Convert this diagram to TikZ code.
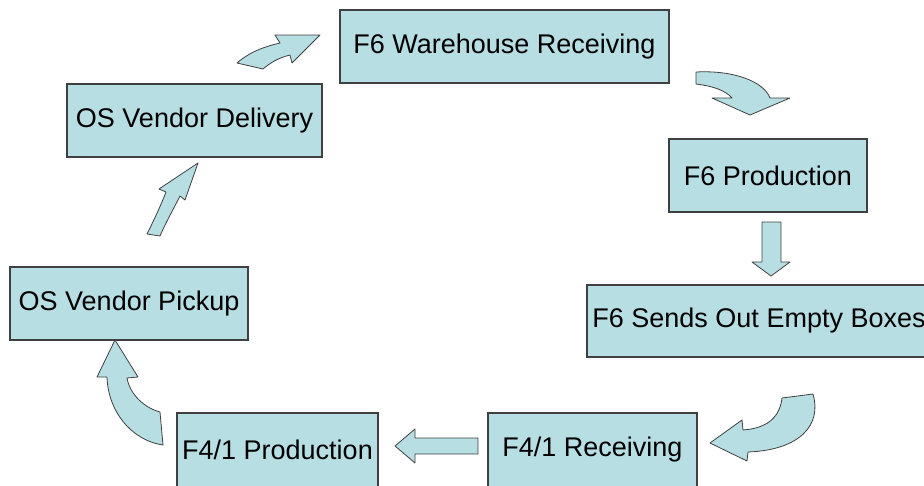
\documentclass[tikz,border=0pt]{standalone}
\usepackage{fontspec}
\setmainfont{Liberation Sans}
\definecolor{boxfill}{RGB}{183,222,226}
\definecolor{boxline}{RGB}{64,64,64}
\tikzset{
  procbox/.style={draw=boxline, fill=boxfill, line width=1.2pt, inner sep=0pt,
    font=\fontsize{27}{31}\selectfont, text=black},
  barrow/.style={draw=boxline, fill=boxfill, line width=0.8pt, line join=round}
}
\begin{document}
\begin{tikzpicture}[x=1pt,y=-1pt]
\useasboundingbox (0,0) rectangle (924,485);
\clip (0,0) rectangle (924,485);
\node[procbox, minimum width=329pt, minimum height=73pt] (wr) at (504.5,46.5) {F6 Warehouse Receiving};
\node[procbox, minimum width=255pt, minimum height=73pt] (od) at (194.5,120.5) {OS Vendor Delivery};
\node[procbox, minimum width=198pt, minimum height=73pt] (fp) at (768,175.5) {F6 Production};
\node[procbox, minimum width=344pt, minimum height=72pt] (se) at (759,321) {F6 Sends Out Empty Boxes};
\node[procbox, minimum width=238pt, minimum height=73pt] (op) at (129,303.5) {OS Vendor Pickup};
\node[procbox, minimum width=201pt, minimum height=74pt] (fq) at (277.5,450) {F4/1 Production};
\node[procbox, minimum width=209pt, minimum height=74pt] (fr) at (592.5,450) {F4/1 Receiving};
% block arrows
\draw[barrow] (237,63) .. controls (252,50) and (268,46) .. (280,43) -- (275,35) -- (320,35) -- (292,63) -- (290,55) .. controls (278,58) and (270,63) .. (263,69) -- cycle;
\draw[barrow] (696,72) .. controls (735,70) and (764,82) .. (770,98) -- (790,98) -- (750,115) -- (712,98) -- (732,98) .. controls (725,90) and (712,86) .. (696,84) -- cycle;
\draw[barrow] (762,222) -- (781,222) -- (781,262) -- (790,262) -- (771,276) -- (752,262) -- (762,262) -- cycle;
\draw[barrow] (782,398) -- (813,394) .. controls (822,425) and (800,450) .. (748,452) -- (747,461) -- (710,443) -- (742,420) -- (743,430) .. controls (770,428) and (780,415) .. (782,398) -- cycle;
\draw[barrow] (478,438) -- (478,454) -- (415,454) -- (415,463) -- (395,446) -- (415,429) -- (415,438) -- cycle;
\draw[barrow] (115,340) -- (138,377) -- (127,378) .. controls (130,395) and (145,408) .. (160,412) -- (163,445) .. controls (130,440) and (108,410) .. (107,377) -- (97,377) -- cycle;
\draw[barrow] (198,163) -- (185,200) -- (180,196) .. controls (173,210) and (166,222) .. (160,236) -- (147,234) .. controls (154,220) and (161,205) .. (166,192) -- (159,189) -- cycle;
\end{tikzpicture}
\end{document}
